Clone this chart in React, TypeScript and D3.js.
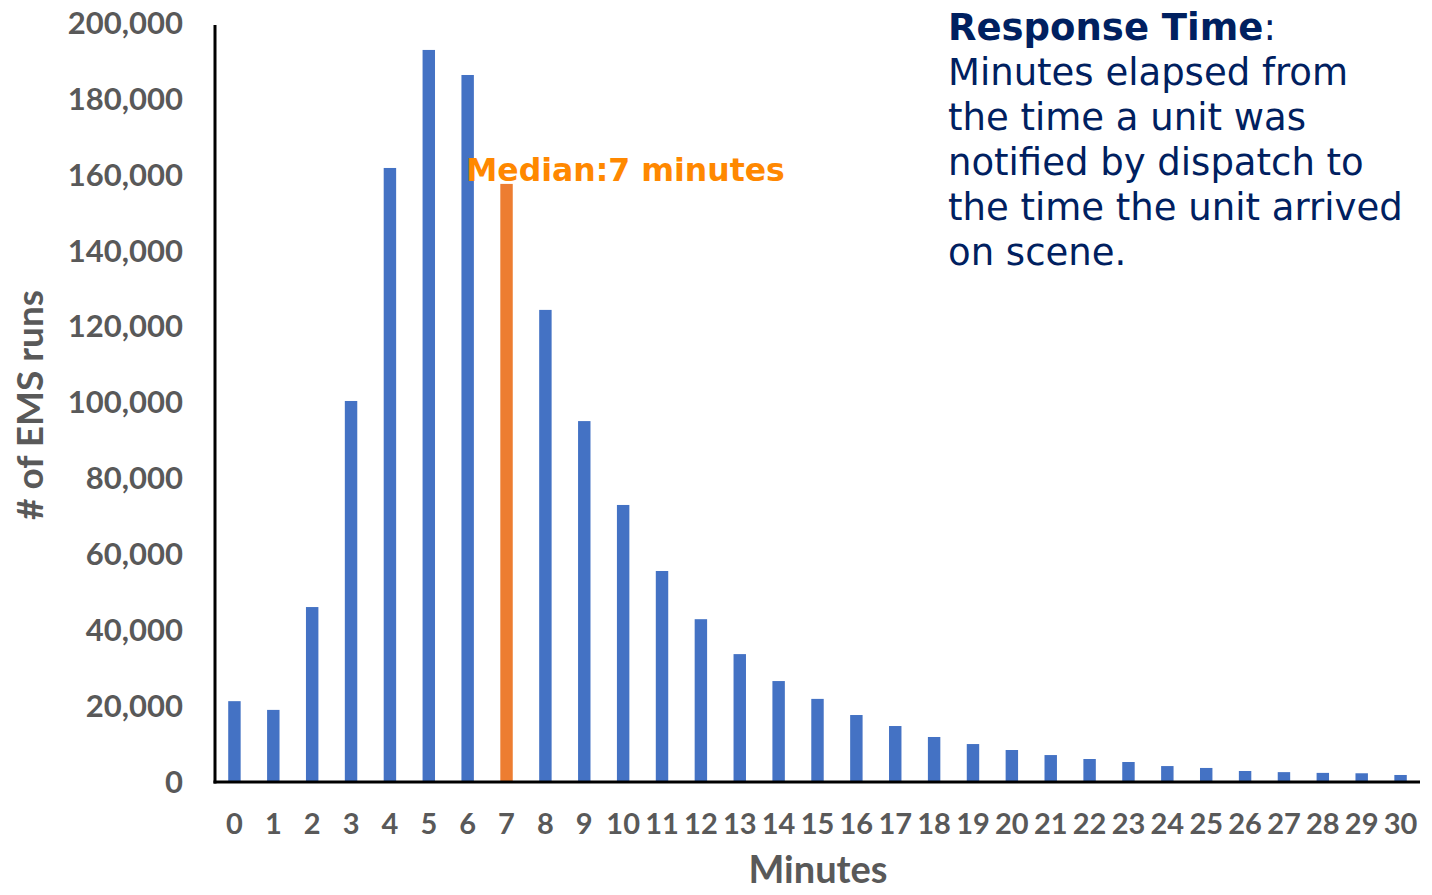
import React from "react";
import * as d3 from "d3";

const minutes = d3.range(0, 31).map(String);
const runs = [
  21300, 19000, 46100, 100400, 161800, 192900, 186300, 157600, 124400, 95100,
  73000, 55600, 42900, 33700, 26600, 21900, 17650, 14750, 11860, 10000,
  8430, 7100, 6060, 5270, 4200, 3700, 2900, 2600, 2400, 2300, 1850,
];
const yTicks = [0, 20000, 40000, 60000, 80000, 100000, 120000, 140000, 160000, 180000, 200000];
const medianMinute = "7";
const noteLines = [
  "Minutes elapsed from",
  "the time a unit was",
  "notified by dispatch to",
  "the time the unit arrived",
  "on scene.",
];

const W = 1432;
const H = 895;
const left = 215;
const right = 1420;
const top = 23;
const bottom = 782;

export default function App() {
  const x = d3.scaleBand<string>().domain(minutes).range([left, right]).paddingInner(0.68).paddingOuter(0.34);
  const y = d3.scaleLinear().domain([0, 200000]).range([bottom, top]);
  const fmt = d3.format(",");
  const tickFont = "Lato, 'Open Sans', sans-serif";

  return (
    <svg width={W} height={H} style={{ position: "absolute", left: 0, top: 0 }}>
      <rect width={W} height={H} fill="#fff" />
      {minutes.map((m, i) => (
        <rect
          key={m}
          x={x(m)}
          y={y(runs[i])}
          width={x.bandwidth()}
          height={bottom - y(runs[i])}
          fill={m === medianMinute ? "#ED7D31" : "#4472C4"}
        />
      ))}
      <line x1={left} x2={left} y1={top + 2} y2={bottom + 1.5} stroke="#000" strokeWidth={3} />
      <line x1={left - 1.5} x2={right} y1={bottom} y2={bottom} stroke="#000" strokeWidth={3} />
      {yTicks.map((t) => (
        <text
          key={t}
          x={183}
          y={y(t)}
          dy="0.35em"
          textAnchor="end"
          fontFamily={tickFont}
          fontWeight={700}
          fontSize={31}
          fill="#595959"
        >
          {fmt(t)}
        </text>
      ))}
      {minutes.map((m) => (
        <text
          key={m}
          x={(x(m) as number) + x.bandwidth() / 2}
          y={824}
          dy="0.35em"
          textAnchor="middle"
          fontFamily={tickFont}
          fontWeight={700}
          fontSize={29}
          fill="#595959"
        >
          {m}
        </text>
      ))}
      <text
        x={818}
        y={870}
        dy="0.35em"
        textAnchor="middle"
        fontFamily={tickFont}
        fontWeight={700}
        fontSize={38}
        fill="#595959"
      >
        Minutes
      </text>
      <text
        transform="translate(30,405) rotate(-90)"
        dy="0.35em"
        textAnchor="middle"
        fontFamily={tickFont}
        fontWeight={700}
        fontSize={37}
        fill="#595959"
      >
        # of EMS runs
      </text>
      <text
        x={466}
        y={181}
        fontFamily="'DejaVu Sans', Verdana, sans-serif"
        fontWeight={700}
        fontSize={31.5}
        fill="#FF8800"
      >
        Median:7 minutes
      </text>
      <text x={948} y={40} fontFamily="'DejaVu Sans', Verdana, sans-serif" fontSize={37} fill="#002060">
        <tspan fontWeight={700}>Response Time</tspan>
        <tspan>:</tspan>
        {noteLines.map((l, i) => (
          <tspan key={i} x={948} dy={45}>
            {l}
          </tspan>
        ))}
      </text>
    </svg>
  );
}
